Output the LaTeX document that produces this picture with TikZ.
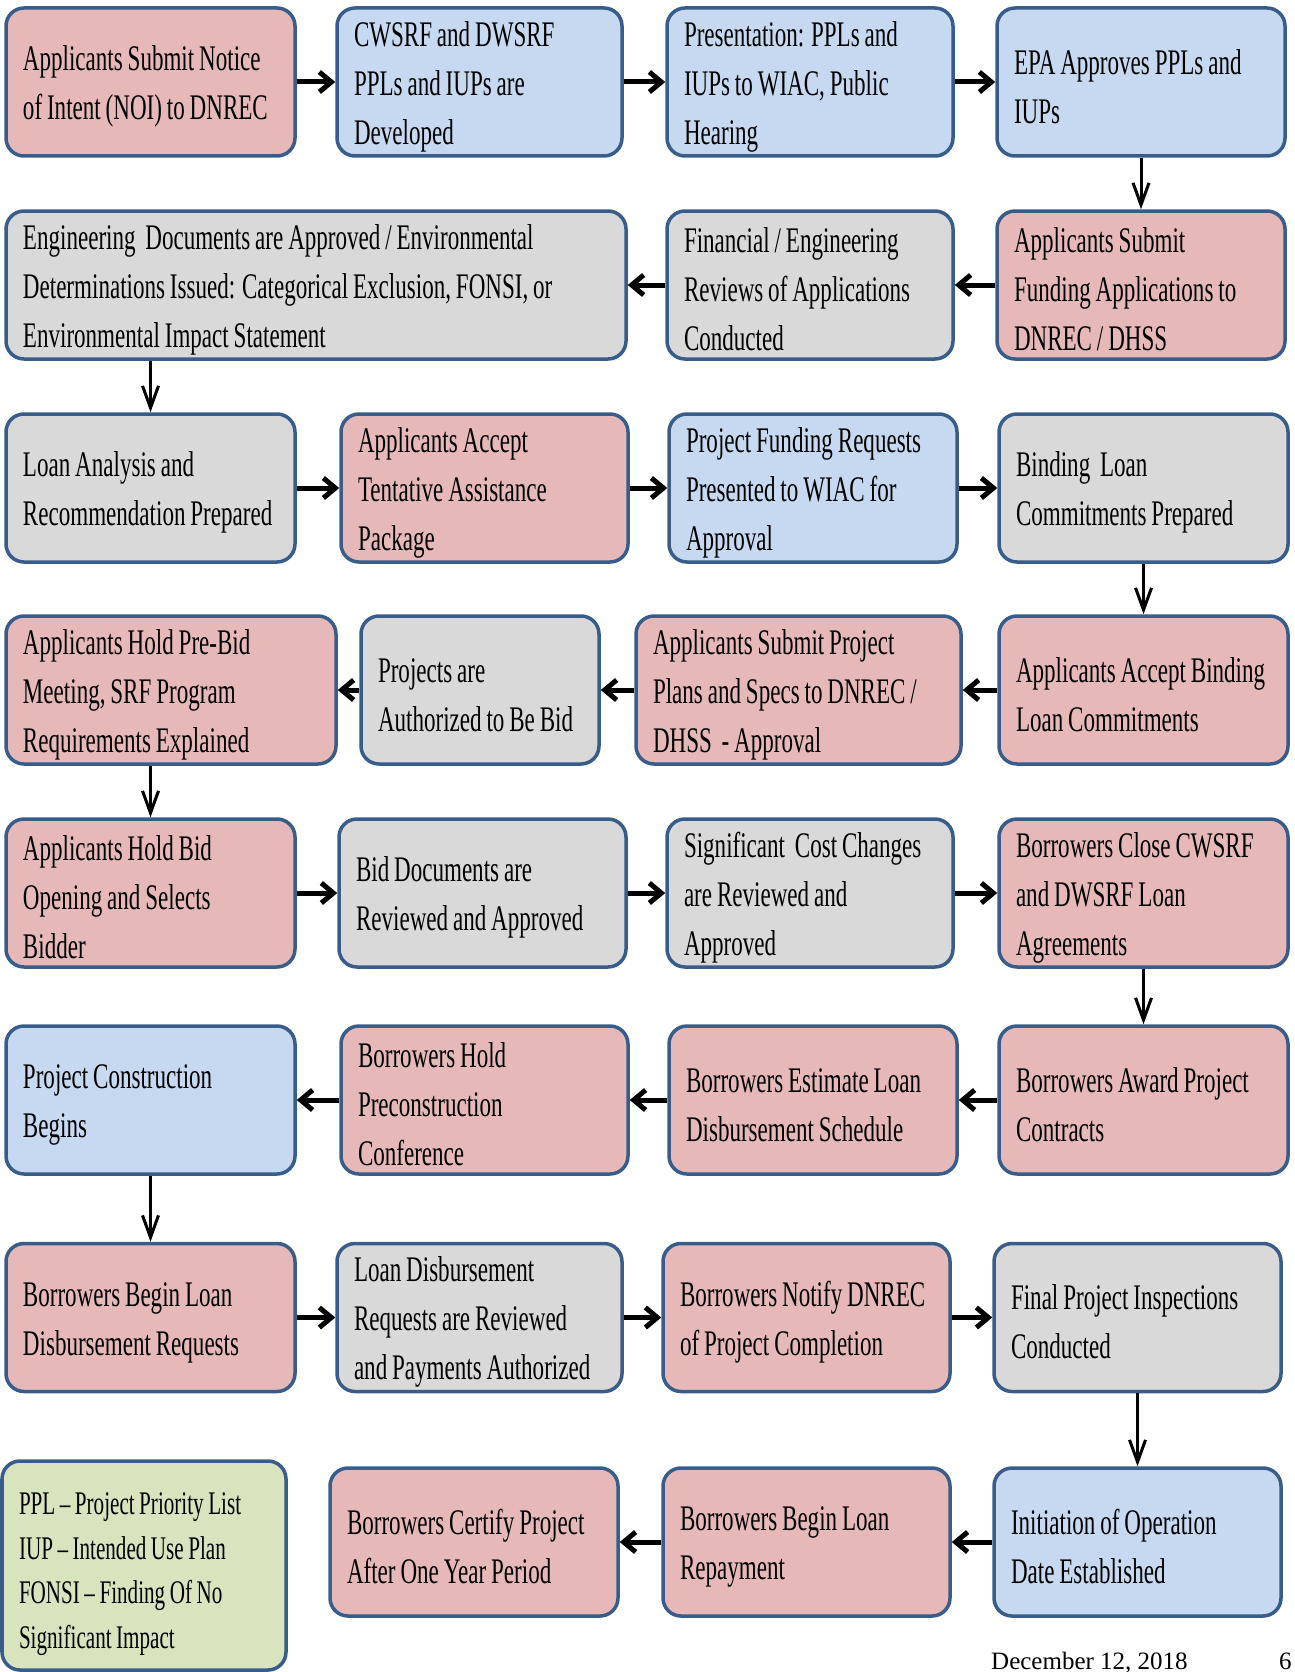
\documentclass[tikz,border=0pt]{standalone}
\usepackage{fontspec}
\setmainfont[FakeStretch=0.64,WordSpace=0.85]{Liberation Serif}
\newfontfamily\footfont{Liberation Serif}
\usetikzlibrary{positioning,arrows.meta}
\definecolor{mypink}{RGB}{230,185,184}
\definecolor{myblue}{RGB}{198,217,241}
\definecolor{mygray}{RGB}{217,217,217}
\definecolor{mygreen}{RGB}{215,228,189}
\definecolor{myframe}{RGB}{56,93,138}

\begin{document}
\begin{tikzpicture}[x=1pt,y=-1pt,font=\fontsize{36}{49}\selectfont,
  stage/.style={draw=myframe,line width=3.5pt,rounded corners=18pt,
    minimum height=148pt,inner xsep=17pt,inner ysep=0pt,align=flush left,
    execute at begin node={\rule{0pt}{34pt}}},
  pnode/.style={stage,fill=mypink},
  bnode/.style={stage,fill=myblue},
  gnode/.style={stage,fill=mygray},
  harrow/.style={line width=5pt,-{Straight Barb[length=12pt,width=20pt]}},
  varrow/.style={line width=3pt,-{Straight Barb[length=22pt,width=16pt]}}]

  \useasboundingbox (0,0) rectangle (1294,1672);
  \clip (0,0) rectangle (1294,1672);

  % first row
  \node[pnode,text width=255pt] (noi) at (150.5,82) {Applicants Submit Notice\\of Intent (NOI) to DNREC};
  \node[bnode,text width=251pt] (develop) at (479.5,82) {CWSRF and DWSRF\\PPLs and IUPs are\\Developed};
  \node[bnode,text width=252pt] (present) at (810,82) {Presentation: PPLs and\\IUPs to WIAC, Public\\Hearing};
  \node[bnode,text width=254pt] (epa) at (1141,82) {EPA Approves PPLs and\\IUPs};

  % second row
  \node[pnode,text width=254pt] (apply) at (1141,285) {Applicants Submit\\Funding Applications to\\DNREC / DHSS};
  \node[gnode,text width=252pt] (review) at (810,285) {Financial / Engineering\\Reviews of Applications\\Conducted};
  \node[gnode,text width=586pt] (engdocs) at (316,285) {Engineering\ \ Documents are Approved / Environmental\\Determinations Issued: Categorical Exclusion, FONSI, or\\Environmental Impact Statement};

  % third row
  \node[gnode,text width=255pt] (loan) at (150.5,488) {Loan Analysis and\\Recommendation Prepared};
  \node[pnode,text width=253pt] (accept) at (484.5,488) {Applicants Accept\\Tentative Assistance\\Package};
  \node[bnode,text width=254pt] (wiac) at (813,488) {Project Funding Requests\\Presented to WIAC for\\Approval};
  \node[gnode,text width=255pt] (binding) at (1143.5,488) {Binding\ \ Loan\\Commitments Prepared};

  % fourth row
  \node[pnode,text width=255pt] (acceptbind) at (1143.5,690) {Applicants Accept Binding\\Loan Commitments};
  \node[pnode,text width=291pt] (plans) at (798.5,690) {Applicants Submit Project\\Plans and Specs to DNREC /\\DHSS\ \ - Approval};
  \node[gnode,text width=204pt] (authorize) at (480,690) {Projects are\\Authorized to Be Bid};
  \node[pnode,text width=296pt] (prebid) at (171,690) {Applicants Hold Pre-Bid\\Meeting, SRF Program\\Requirements Explained};

  % fifth row
  \node[pnode,text width=255pt] (bidopen) at (150.5,893) {Applicants Hold Bid\\Opening and Selects\\Bidder};
  \node[gnode,text width=253pt] (biddocs) at (482.5,893) {Bid Documents are\\Reviewed and Approved};
  \node[gnode,text width=252pt] (costchg) at (810,893) {Significant\ \ Cost Changes\\are Reviewed and\\Approved};
  \node[pnode,text width=255pt] (close) at (1143.5,893) {Borrowers Close CWSRF\\and DWSRF Loan\\Agreements};

  % sixth row
  \node[pnode,text width=255pt] (award) at (1143.5,1100) {Borrowers Award Project\\Contracts};
  \node[pnode,text width=254pt] (estimate) at (813,1100) {Borrowers Estimate Loan\\Disbursement Schedule};
  \node[pnode,text width=253pt] (precon) at (484.5,1100) {Borrowers Hold\\Preconstruction\\Conference};
  \node[bnode,text width=255pt] (construct) at (150.5,1100) {Project Construction\\Begins};

  % seventh row
  \node[pnode,text width=255pt] (disbreq) at (150.5,1317.5) {Borrowers Begin Loan\\Disbursement Requests};
  \node[gnode,text width=251pt] (disbrev) at (479.5,1317.5) {Loan Disbursement\\Requests are Reviewed\\and Payments Authorized};
  \node[pnode,text width=253pt] (notify) at (806.5,1317.5) {Borrowers Notify DNREC\\of Project Completion};
  \node[gnode,text width=253pt] (inspect) at (1137.5,1317.5) {Final Project Inspections\\Conducted};

  % last row and legend
  \node[bnode,text width=253pt] (initop) at (1137.5,1542) {Initiation of Operation\\Date Established};
  \node[pnode,text width=253pt] (repay) at (806.5,1542) {Borrowers Begin Loan\\Repayment};
  \node[pnode,text width=254pt] (certify) at (474,1542) {Borrowers Certify Project\\After One Year Period};
  \node[stage,fill=mygreen,text width=250pt,minimum height=209pt,
    font=\fontsize{33}{44.5}\selectfont,execute at begin node={\rule{0pt}{39pt}}] (legend) at (144,1565.5)
    {PPL -- Project Priority List\\IUP -- Intended Use Plan\\FONSI -- Finding Of No\\Significant Impact};

  % footer
  \node[anchor=base west,inner sep=0pt,font=\footfont\fontsize{25}{29}\selectfont] (date) at (991,1669) {December 12, 2018};
  \node[anchor=base west,inner sep=0pt,font=\footfont\fontsize{25}{29}\selectfont] (pagenum) at (1279,1669) {6};

  % arrows along the rows
  \draw[harrow] (noi) -- (develop);
  \draw[harrow] (develop) -- (present);
  \draw[harrow] (present) -- (epa);
  \draw[harrow] (apply) -- (review);
  \draw[harrow] (review) -- (engdocs);
  \draw[harrow] (loan) -- (accept);
  \draw[harrow] (accept) -- (wiac);
  \draw[harrow] (wiac) -- (binding);
  \draw[harrow] (acceptbind) -- (plans);
  \draw[harrow] (plans) -- (authorize);
  \draw[harrow] (authorize) -- (prebid);
  \draw[harrow] (bidopen) -- (biddocs);
  \draw[harrow] (biddocs) -- (costchg);
  \draw[harrow] (costchg) -- (close);
  \draw[harrow] (award) -- (estimate);
  \draw[harrow] (estimate) -- (precon);
  \draw[harrow] (precon) -- (construct);
  \draw[harrow] (disbreq) -- (disbrev);
  \draw[harrow] (disbrev) -- (notify);
  \draw[harrow] (notify) -- (inspect);
  \draw[harrow] (initop) -- (repay);
  \draw[harrow] (repay) -- (certify);

  % arrows between the rows
  \draw[varrow] (epa) -- (apply);
  \draw[varrow] (engdocs.south -| loan) -- (loan);
  \draw[varrow] (binding) -- (acceptbind);
  \draw[varrow] (prebid.south -| bidopen) -- (bidopen);
  \draw[varrow] (close) -- (award);
  \draw[varrow] (construct) -- (disbreq);
  \draw[varrow] (inspect) -- (initop);

\end{tikzpicture}
\end{document}
